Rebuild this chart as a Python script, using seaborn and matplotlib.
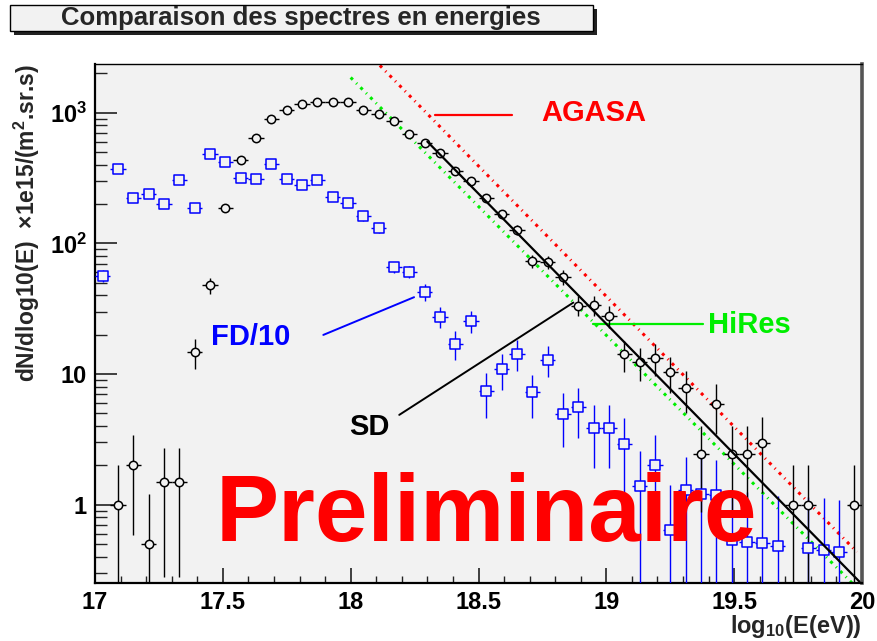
import matplotlib
matplotlib.use("Agg")
import matplotlib.pyplot as plt
import matplotlib.ticker as mticker
from matplotlib.patches import Rectangle
import seaborn as sns

# ---------------- data ----------------
sd_logE = [17.09, 17.15, 17.21, 17.27, 17.33, 17.39, 17.45, 17.51, 17.57, 17.63,
           17.69, 17.75, 17.81, 17.87, 17.93, 17.99, 18.05, 18.11, 18.17, 18.23,
           18.29, 18.35, 18.41, 18.47, 18.53, 18.59, 18.65, 18.71, 18.77, 18.83,
           18.89, 18.95, 19.01, 19.07, 19.13, 19.19, 19.25, 19.31, 19.37, 19.43,
           19.49, 19.55, 19.61, 19.73, 19.79, 19.97]
sd_flux = [1.0, 2.0, 0.5, 1.5, 1.5, 14.7, 47.8, 188, 433, 645,
           892, 1057, 1167, 1210, 1200, 1200, 1050, 977, 865, 692,
           588, 490, 358, 300, 224, 168, 127, 73, 71.6, 55,
           33.4, 33.8, 27.9, 14.2, 12.3, 13.3, 10.4, 7.8, 2.44, 5.9,
           2.44, 2.44, 2.95, 1.0, 1.0, 1.0]
sd_err = [1.0, 1.41, 0.71, 1.22, 1.22, 3.8, 6.9, 13.7, 20.8, 25.4,
          29.9, 32.5, 34.2, 34.8, 34.6, 34.6, 32.4, 31.3, 29.4, 26.3,
          24.2, 22.1, 18.9, 17.3, 15.0, 13.0, 11.3, 8.5, 8.5, 7.4,
          5.8, 5.8, 5.3, 3.8, 3.5, 3.6, 3.2, 2.8, 1.56, 2.43,
          1.56, 1.56, 1.72, 1.0, 1.0, 1.0]

fd_logE = [17.03, 17.09, 17.15, 17.21, 17.27, 17.33, 17.39, 17.45, 17.51, 17.57,
           17.63, 17.69, 17.75, 17.81, 17.87, 17.93, 17.99, 18.05, 18.11, 18.17,
           18.23, 18.29, 18.35, 18.41, 18.47, 18.53, 18.59, 18.65, 18.71, 18.77,
           18.83, 18.89, 18.95, 19.01, 19.07, 19.13, 19.19, 19.25, 19.31, 19.37,
           19.43, 19.49, 19.55, 19.61, 19.67, 19.79, 19.85, 19.91]
fd_flux = [56.6, 373, 221, 238, 200, 304, 188, 481, 423, 317,
           311, 408, 311, 279, 304, 227, 203, 162, 130, 65.6,
           60.7, 42.7, 27.5, 17.1, 25.5, 7.4, 10.9, 14.3, 7.24, 12.9,
           4.97, 5.56, 3.86, 3.86, 2.91, 1.39, 2.02, 0.64, 1.29, 1.2,
           1.18, 0.536, 0.52, 0.505, 0.485, 0.463, 0.45, 0.436]
fd_err = [6.0, 19, 15, 15, 14, 17, 14, 22, 20, 18,
          18, 20, 18, 17, 17, 15, 14, 13, 11, 6.5,
          6.5, 6.5, 5.2, 4.2, 5.0, 2.8, 3.3, 3.8, 2.6, 3.5,
          2.2, 2.3, 1.95, 1.95, 1.7, 1.16, 1.4, 0.77, 1.04, 1.1,
          1.0, 0.73, 0.72, 0.71, 0.68, 0.68, 0.67, 0.65]
bin_half_width = 0.03

sd_fit_logE = [18.30, 19.99]
sd_fit_flux = [601, 0.257]
agasa_logE = [18.0, 19.98]
agasa_flux = [3890, 0.434]
hires_logE = [18.0, 20.0]
hires_flux = [1860, 0.21]

x_ticks = [17, 17.5, 18, 18.5, 19, 19.5, 20]
x_tick_labels = ["17", "17.5", "18", "18.5", "19", "19.5", "20"]
y_ticks = [1, 10, 100, 1000]
y_tick_labels = ["1", "10", r"$\mathbf{10^{2}}$", r"$\mathbf{10^{3}}$"]

# ---------------- style ----------------
sns.set_theme(style="ticks")
plt.rcParams["font.family"] = ["Liberation Sans", "DejaVu Sans"]
plt.rcParams["font.weight"] = "bold"
plt.rcParams["mathtext.fontset"] = "custom"
plt.rcParams["mathtext.rm"] = "Liberation Sans:bold"
plt.rcParams["mathtext.bf"] = "Liberation Sans:bold"
plt.rcParams["mathtext.it"] = "Liberation Sans:bold"
plt.rcParams["mathtext.default"] = "bf"

BG = "#f2f2f2"
W, H = 877, 641
fig = plt.figure(figsize=(W / 100, H / 100), dpi=100, facecolor="white")
ax = fig.add_axes([95 / W, 1 - 583 / H, (862 - 95) / W, (583 - 64) / H])
ax.set_facecolor(BG)

# error bars
ax.errorbar(fd_logE, fd_flux, yerr=fd_err, xerr=bin_half_width, fmt="none",
            ecolor="#0000ff", elinewidth=1.0, capsize=0, zorder=3)
ax.errorbar(sd_logE, sd_flux, yerr=sd_err, xerr=bin_half_width, fmt="none",
            ecolor="black", elinewidth=1.0, capsize=0, zorder=3)

# markers
sns.scatterplot(x=fd_logE, y=fd_flux, marker="s", s=42, color="#0000ff",
                facecolor=BG, edgecolor="#0000ff", linewidth=1.1, ax=ax,
                zorder=4, legend=False)
sns.scatterplot(x=sd_logE, y=sd_flux, marker="o", s=36, color="black",
                facecolor=BG, edgecolor="black", linewidth=1.1, ax=ax,
                zorder=4, legend=False)

# spectra fits
dotted = (0, (1.0, 1.6, 0.35, 1.6))
sns.lineplot(x=agasa_logE, y=agasa_flux, ax=ax, color="#ff0000", linewidth=2.2,
             linestyle=dotted, sort=False, estimator=None, zorder=2)
sns.lineplot(x=hires_logE, y=hires_flux, ax=ax, color="#00ee00", linewidth=2.2,
             linestyle=dotted, sort=False, estimator=None, zorder=2)
sns.lineplot(x=sd_fit_logE, y=sd_fit_flux, ax=ax, color="black", linewidth=1.6,
             sort=False, estimator=None, zorder=5)

# axes
ax.set_yscale("log")
ax.set_xlim(17, 20)
ax.set_ylim(0.251, 2360)
ax.xaxis.set_major_locator(mticker.FixedLocator(x_ticks))
ax.xaxis.set_major_formatter(mticker.FixedFormatter(x_tick_labels))
ax.xaxis.set_minor_locator(mticker.MultipleLocator(0.1))
ax.yaxis.set_major_locator(mticker.FixedLocator(y_ticks))
ax.yaxis.set_major_formatter(mticker.FixedFormatter(y_tick_labels))
ax.yaxis.set_minor_locator(mticker.LogLocator(base=10, subs=range(2, 10)))
ax.yaxis.set_minor_formatter(mticker.NullFormatter())

ax.tick_params(axis="both", which="both", direction="in", top=False, right=False,
               colors="#222222", labelcolor="black", labelsize=17)
ax.tick_params(axis="y", which="major", length=16, width=1.2, pad=6)
ax.tick_params(axis="y", which="minor", length=8.3, width=1.0)
ax.tick_params(axis="x", which="major", length=11, width=1.2, pad=6)
ax.tick_params(axis="x", which="minor", length=5.3, width=1.0)
for lab in ax.get_xticklabels() + ax.get_yticklabels():
    lab.set_fontweight("bold")

for side in ("left", "bottom"):
    ax.spines[side].set_color("black")
    ax.spines[side].set_linewidth(1.6)
ax.spines["top"].set_color("black")
ax.spines["top"].set_linewidth(1.0)
ax.spines["right"].set_color("#555555")
ax.spines["right"].set_linewidth(2.6)

ax.set_xlabel(r"log$_{10}$(E(eV))", fontsize=17, fontweight="bold", loc="right")
ax.xaxis.set_label_coords(1.0, -0.058)
ax.xaxis.label.set_verticalalignment("top")
ax.set_ylabel("dN/dlog10(E)  \u00d71e15/(m$^{2}$.sr.s)", fontsize=16.5,
              fontweight="bold", loc="top")
ax.yaxis.set_label_coords(-0.069, 1.0)

# annotations
ax.plot([18.330, 18.631], [962, 962], color="#ff0000", lw=1.6, zorder=2)
ax.text(18.744, 865, "AGASA", color="#ff0000", fontsize=21, fontweight="bold",
        ha="left", va="baseline")
ax.plot([18.949, 19.379], [24.1, 24.1], color="#00ee00", lw=1.6, zorder=2)
ax.text(19.397, 20.5, "HiRes", color="#00ee00", fontsize=21, fontweight="bold",
        ha="left", va="baseline")
ax.plot([17.893, 18.248], [19.9, 38.7], color="#0000ff", lw=1.4, zorder=2)
ax.text(17.4536, 16.7, "FD/10", color="#0000ff", fontsize=21, fontweight="bold",
        ha="left", va="baseline")
ax.plot([18.190, 18.871], [4.86, 35.2], color="black", lw=1.4, zorder=2)
ax.text(17.993, 3.41, "SD", color="black", fontsize=21, fontweight="bold",
        ha="left", va="baseline")
ax.text(17.470, 0.529, "Preliminaire", color="#ff0000", fontsize=68,
        fontweight="bold", ha="left", va="baseline", zorder=6)

# title box
x0, x1, y0, y1 = 10, 593, 5, 31
sh = 4
fig.patches.append(Rectangle(((x0 + sh) / W, 1 - (y1 + sh) / H), (x1 - x0) / W,
                             (y1 - y0) / H, transform=fig.transFigure,
                             facecolor="#222222", edgecolor="none", zorder=0))
fig.patches.append(Rectangle((x0 / W, 1 - y1 / H), (x1 - x0) / W, (y1 - y0) / H,
                             transform=fig.transFigure, facecolor=BG,
                             edgecolor="black", linewidth=1.0, zorder=1))
fig.text(301 / W, 1 - 18.5 / H, "Comparaison des spectres en energies",
         fontsize=18.5, fontweight="bold", ha="center", va="center", zorder=2)

fig.savefig("out.png", dpi=100, facecolor="white")
